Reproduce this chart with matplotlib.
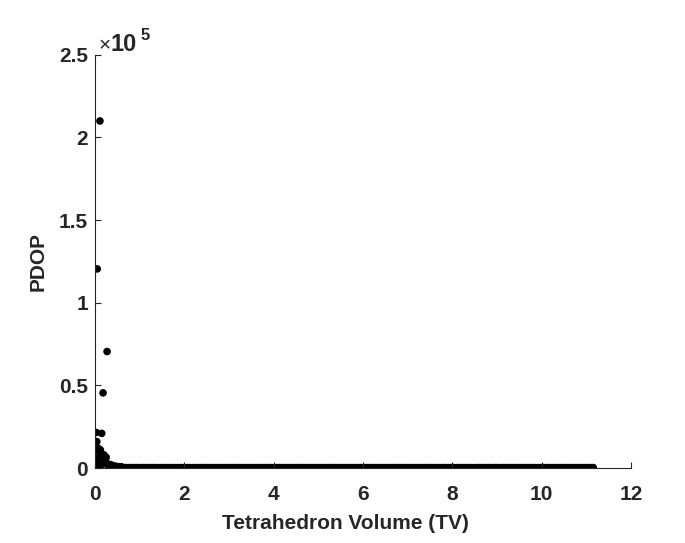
import numpy as np
import matplotlib.pyplot as plt

# outliers and low-volume cluster (TV, PDOP)
tv_out = [0.11, 0.05, 0.27, 0.18, 0.03, 0.15, 0.04, 0.08, 0.12, 0.20, 0.06, 0.10, 0.16, 0.22, 0.25, 0.30, 0.35, 0.40, 0.45, 0.50, 0.55, 0.60, 0.09, 0.14, 0.02, 0.07, 0.13]
pdop_out = [210000, 120500, 70500, 45500, 21500, 21000, 16000, 10000, 11000, 8000, 6000, 5000, 4000, 3000, 6500, 2500, 2000, 1500, 1200, 900, 800, 700, 3000, 2000, 1500, 12000, 9000]

# sweep of tetrahedron volume with PDOP close to zero
tv_sweep = np.arange(0.3, 11.22, 0.065)
pdop_sweep = np.full(len(tv_sweep), 300.0)

plt.rcParams['font.family'] = ['Liberation Sans', 'DejaVu Sans']
fig = plt.figure(figsize=(6.85, 5.43), dpi=100)
ax = fig.add_axes([0.1387, 0.138, 0.7825, 0.761])

ax.scatter(tv_sweep, pdop_sweep, s=30, c='black', edgecolors='none')
ax.scatter(tv_out, pdop_out, s=30, c='black', edgecolors='none')

gray = '#262626'
ax.set_xlim(0, 12)
ax.set_ylim(0, 250000)
ax.set_xticks(np.arange(0, 13, 2))
ax.set_yticks(np.arange(0, 250001, 50000))
ax.set_yticklabels(['0', '0.5', '1', '1.5', '2', '2.5'])
ax.tick_params(direction='in', length=4, width=0.8, colors=gray, labelsize=15)
ax.tick_params(axis='x', pad=12)
ax.tick_params(axis='y', pad=5)
for lbl in ax.get_xticklabels() + ax.get_yticklabels():
    lbl.set_fontweight('bold')
ax.spines['top'].set_visible(False)
ax.spines['right'].set_visible(False)
ax.spines['left'].set_color(gray)
ax.spines['bottom'].set_color(gray)

ax.set_xlabel('Tetrahedron Volume (TV)', fontsize=15, fontweight='bold', color=gray, labelpad=9)
ax.xaxis.set_label_coords(0.468, -0.11, transform=ax.transAxes)
ax.xaxis.label.set_va('top')
ax.set_ylabel('PDOP', fontsize=15, fontweight='bold', color=gray, labelpad=8)
ax.text(0.0075, 1.0097, '×', transform=ax.transAxes, fontsize=15, color=gray, ha='left', va='baseline')
ax.text(0.028, 1.0097, '10', transform=ax.transAxes, fontsize=17, fontweight='bold', color=gray, ha='left', va='baseline')
ax.text(0.084, 1.036, '5', transform=ax.transAxes, fontsize=12, fontweight='bold', color=gray, ha='left', va='baseline')

fig.savefig('out.png', dpi=100)
